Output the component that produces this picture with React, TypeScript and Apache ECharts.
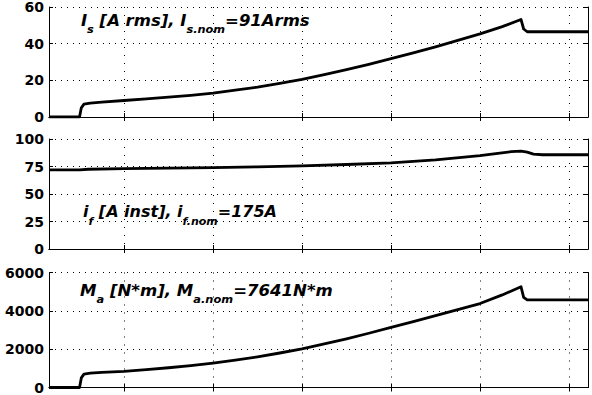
import React, { useEffect, useRef } from 'react';
import * as echarts from 'echarts';

// x domain (time units, vertical grid at integer ticks)
const xMin = 0.157;
const xMax = 6.213;
const xTicks = [1, 2, 3, 4, 5, 6];

// Panel 1: stator current I_s [A rms]
const isTime = [0.157, 0.5, 0.52, 0.55, 0.62, 0.75, 1.0, 1.25, 1.5, 1.75, 2.0, 2.25, 2.5, 2.75, 3.0, 3.25, 3.5, 3.75, 4.0, 4.25, 4.5, 4.75, 5.0, 5.25, 5.46, 5.49, 5.53, 6.213];
const isValues = [0, 0, 5, 7, 7.6, 8.1, 9, 9.9, 10.8, 11.8, 13, 14.6, 16.3, 18.3, 20.5, 23.1, 25.8, 28.7, 31.8, 35, 38.3, 41.8, 45.3, 49.3, 53.2, 48, 46.5, 46.5];
const isTicks = [0, 20, 40, 60];

// Panel 2: field current i_f [A inst]
const ifTime = [0.157, 0.5, 0.6, 1.0, 1.5, 2.0, 2.5, 3.0, 3.5, 4.0, 4.5, 5.0, 5.2, 5.35, 5.46, 5.53, 5.6, 5.7, 6.213];
const ifValues = [72, 72, 72.5, 73, 73.5, 74, 74.7, 75.5, 76.8, 78.3, 81, 84.8, 87, 88.5, 89, 88, 86.2, 85.7, 85.7];
const ifTicks = [0, 25, 50, 75, 100];

// Panel 3: torque M_a [N*m]
const maTime = [0.157, 0.5, 0.52, 0.55, 0.62, 0.75, 1.0, 1.25, 1.5, 1.75, 2.0, 2.25, 2.5, 2.75, 3.0, 3.25, 3.5, 3.75, 4.0, 4.25, 4.5, 4.75, 5.0, 5.25, 5.46, 5.49, 5.53, 6.213];
const maValues = [0, 0, 500, 700, 750, 790, 843, 935, 1030, 1145, 1272, 1425, 1600, 1800, 2017, 2270, 2540, 2830, 3135, 3440, 3750, 4060, 4380, 4830, 5260, 4700, 4570, 4570];
const maTicks = [0, 2000, 4000, 6000];

const labelTexts = [
  '{m|I}{s|s}{m| [A rms], I}{s|s.nom}{m|=91Arms}',
  '{m|i}{s|f}{m| [A inst], i}{s|f.nom}{m|=175A}',
  '{m|M}{s|a}{m| [N*m], M}{s|a.nom}{m|=7641N*m}',
];

export default function App() {
  const ref = useRef<HTMLDivElement>(null);
  useEffect(() => {
    if (!ref.current) return;
    const chart = echarts.init(ref.current, null, { renderer: 'svg' });
    const grids = [
      { left: 49, right: 4, top: 6, height: 111 },
      { left: 49, right: 4, top: 139, height: 110 },
      { left: 49, right: 4, top: 272.5, height: 115 },
    ];
    const panels = [
      { t: isTime, v: isValues, ticks: isTicks },
      { t: ifTime, v: ifValues, ticks: ifTicks },
      { t: maTime, v: maValues, ticks: maTicks },
    ];
    const axisLine = { show: true, lineStyle: { color: '#000', width: 1 } };
    const xAxis: any[] = [];
    const yAxis: any[] = [];
    const series: any[] = [];
    panels.forEach((p, g) => {
      const yMin = p.ticks[0];
      const yMax = p.ticks[p.ticks.length - 1];
      const yInt = p.ticks[1] - p.ticks[0];
      xAxis.push({
        type: 'value', gridIndex: g, min: xMin, max: xMax, position: 'bottom',
        axisLine, axisLabel: { show: false },
        axisTick: { show: true, inside: true, length: 4, customValues: xTicks, lineStyle: { color: '#000' } },
        splitLine: { show: true, lineStyle: { color: '#000', type: [1, 7], width: 1 } },
      });
      xAxis.push({
        type: 'value', gridIndex: g, min: xMin, max: xMax, position: 'top',
        axisLine, axisLabel: { show: false },
        axisTick: { show: true, inside: true, length: 4, customValues: xTicks, lineStyle: { color: '#000' } },
        splitLine: { show: false },
      });
      yAxis.push({
        type: 'value', gridIndex: g, min: yMin, max: yMax, interval: yInt, position: 'left',
        axisLine,
        axisTick: { show: true, inside: true, length: 4, lineStyle: { color: '#000' } },
        axisLabel: {
          color: '#000', fontFamily: 'DejaVu Sans', fontWeight: 'bold', fontSize: 14, margin: 5,
          formatter: (v: number) => String(v),
        },
        splitLine: { show: true, lineStyle: { color: '#000', type: [1, 5], width: 1 } },
      });
      yAxis.push({
        type: 'value', gridIndex: g, min: yMin, max: yMax, interval: yInt, position: 'right',
        axisLine, axisLabel: { show: false },
        axisTick: { show: true, inside: true, length: 4, lineStyle: { color: '#000' } },
        splitLine: { show: false },
      });
      series.push({
        type: 'line', xAxisIndex: 2 * g, yAxisIndex: 2 * g,
        data: p.t.map((t, i) => [t, p.v[i]]),
        showSymbol: false, smooth: false,
        lineStyle: { color: '#000', width: 2.8, join: 'round' },
      });
    });
    const rich = {
      m: { fontFamily: 'DejaVu Sans', fontWeight: 'bold', fontStyle: 'italic', fontSize: 16, lineHeight: 18, verticalAlign: 'top', fill: '#000' },
      s: { fontFamily: 'DejaVu Sans', fontWeight: 'bold', fontStyle: 'italic', fontSize: 11, lineHeight: 11, padding: [12, 0, 0, 0], verticalAlign: 'top', fill: '#000' },
    };
    const labelPos = [
      { x: 81, y: 12.5, sx: 1.03 },
      { x: 83, y: 203.5, sx: 1.0 },
      { x: 80, y: 282.5, sx: 1.035 },
    ];
    chart.setOption({
      animation: false,
      backgroundColor: '#fff',
      grid: grids,
      xAxis,
      yAxis,
      series,
      graphic: labelTexts.map((text, i) => ({
        type: 'text',
        x: labelPos[i].x,
        y: labelPos[i].y,
        scaleX: labelPos[i].sx,
        z: 100,
        style: { text, rich, fill: '#000', verticalAlign: 'top', align: 'left' },
      })),
    });
    return () => chart.dispose();
  }, []);
  return <div ref={ref} style={{ width: 592, height: 395, position: 'absolute', left: 0, top: 0 }} />;
}
